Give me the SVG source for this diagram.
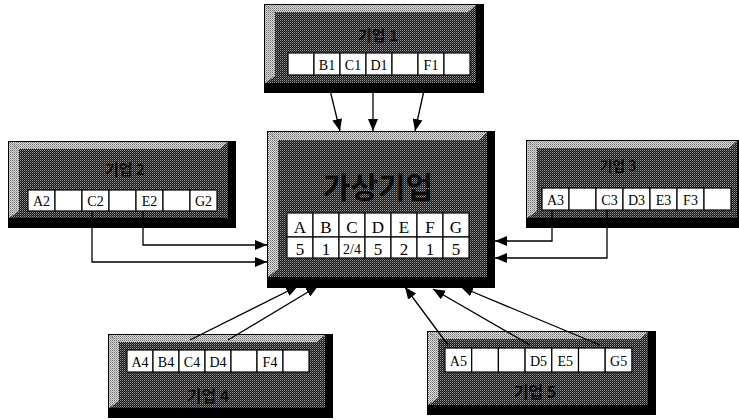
<svg xmlns="http://www.w3.org/2000/svg" width="739" height="420" viewBox="0 0 739 420">
<style>
.frame{fill:#000}
.face{fill:url(#dark)}
.bevel{fill:url(#light)}
.cell{fill:#fff;stroke:#000;stroke-width:1.2}
.lbl{font-family:"Liberation Serif",serif;font-size:14px;fill:#000;text-anchor:middle}
.big{font-family:"Liberation Serif",serif;font-size:17px;fill:#000;text-anchor:middle}
.title{font-family:"Noto Sans CJK KR",sans-serif;font-weight:bold;fill:#0a0a0a;text-anchor:middle}
.conn{fill:none;stroke:#000;stroke-width:1.3}
</style>
<defs>
<pattern id="dark" width="2" height="2" patternUnits="userSpaceOnUse"><rect width="2" height="2" fill="#151515"/><rect width="1" height="1" fill="#9a9a9a"/><rect x="1" y="1" width="1" height="1" fill="#555"/></pattern>
<pattern id="light" width="2" height="2" patternUnits="userSpaceOnUse"><rect width="2" height="2" fill="#dcdcdc"/><rect width="1" height="1" fill="#6e6e6e"/><rect x="1" y="1" width="1" height="1" fill="#a0a0a0"/></pattern>
<marker id="ah" markerWidth="12" markerHeight="10" refX="12" refY="5" orient="auto" markerUnits="userSpaceOnUse"><path d="M0,0 L12,5 L0,10 z" fill="#000"/></marker>
</defs>
<rect width="739" height="420" fill="#fff"/>

<g id="company1">
<rect class="frame" x="264" y="4" width="220" height="89"/>
<rect class="face" x="265" y="5" width="211" height="78"/>
<polygon class="bevel" points="265,5 476,5 468,12 275,12"/>
<polygon class="bevel" points="265,5 275,12 275,76 265,83"/>
<text class="title" x="378" y="41" font-size="15">기업 1</text>
<rect class="cell" x="288" y="53" width="26" height="22"/>
<rect class="cell" x="314" y="53" width="26" height="22"/>
<rect class="cell" x="340" y="53" width="26" height="22"/>
<rect class="cell" x="366" y="53" width="26" height="22"/>
<rect class="cell" x="392" y="53" width="26" height="22"/>
<rect class="cell" x="418" y="53" width="26" height="22"/>
<rect class="cell" x="444" y="53" width="26" height="22"/>
<text class="lbl" x="327" y="70">B1</text>
<text class="lbl" x="353" y="70">C1</text>
<text class="lbl" x="379" y="70">D1</text>
<text class="lbl" x="431" y="70">F1</text>
</g>

<g id="company2">
<rect class="frame" x="8" y="141" width="228" height="87"/>
<rect class="face" x="9" y="142" width="219" height="76"/>
<polygon class="bevel" points="9,142 228,142 220,149 19,149"/>
<polygon class="bevel" points="9,142 19,149 19,211 9,218"/>
<text class="title" x="125" y="175" font-size="15">기업 2</text>
<rect class="cell" x="28" y="190" width="27" height="21"/>
<rect class="cell" x="55" y="190" width="27" height="21"/>
<rect class="cell" x="82" y="190" width="27" height="21"/>
<rect class="cell" x="109" y="190" width="27" height="21"/>
<rect class="cell" x="136" y="190" width="27" height="21"/>
<rect class="cell" x="163" y="190" width="27" height="21"/>
<rect class="cell" x="190" y="190" width="27" height="21"/>
<text class="lbl" x="41.5" y="206">A2</text>
<text class="lbl" x="95.5" y="206">C2</text>
<text class="lbl" x="149.5" y="206">E2</text>
<text class="lbl" x="203.5" y="206">G2</text>
</g>

<g id="virtual">
<rect class="frame" x="267" y="131" width="228" height="157"/>
<rect class="face" x="268" y="132" width="219" height="145"/>
<polygon class="bevel" points="268,132 487,132 479,140 278,140"/>
<polygon class="bevel" points="268,132 278,140 278,269 268,277"/>
<text class="title" x="378" y="198" font-size="30">가상기업</text>
<rect class="cell" x="287" y="213" width="26" height="24"/>
<rect class="cell" x="313" y="213" width="26" height="24"/>
<rect class="cell" x="339" y="213" width="26" height="24"/>
<rect class="cell" x="365" y="213" width="26" height="24"/>
<rect class="cell" x="391" y="213" width="26" height="24"/>
<rect class="cell" x="417" y="213" width="26" height="24"/>
<rect class="cell" x="443" y="213" width="26" height="24"/>
<rect class="cell" x="287" y="237" width="26" height="21"/>
<rect class="cell" x="313" y="237" width="26" height="21"/>
<rect class="cell" x="339" y="237" width="26" height="21"/>
<rect class="cell" x="365" y="237" width="26" height="21"/>
<rect class="cell" x="391" y="237" width="26" height="21"/>
<rect class="cell" x="417" y="237" width="26" height="21"/>
<rect class="cell" x="443" y="237" width="26" height="21"/>
<text class="big" x="300" y="233">A</text>
<text class="big" x="326" y="233">B</text>
<text class="big" x="352" y="233">C</text>
<text class="big" x="378" y="233">D</text>
<text class="big" x="404" y="233">E</text>
<text class="big" x="430" y="233">F</text>
<text class="big" x="456" y="233">G</text>
<text class="big" x="300" y="255">5</text>
<text class="big" x="326" y="255">1</text>
<text class="lbl" x="352" y="254" font-size="12">2/4</text>
<text class="big" x="378" y="255">5</text>
<text class="big" x="404" y="255">2</text>
<text class="big" x="430" y="255">1</text>
<text class="big" x="456" y="255">5</text>
</g>

<g id="company3">
<rect class="frame" x="526" y="140" width="215" height="88"/>
<rect class="face" x="527" y="141" width="210" height="77"/>
<polygon class="bevel" points="527,141 737,141 729,148 537,148"/>
<polygon class="bevel" points="527,141 537,148 537,211 527,218"/>
<text class="title" x="618" y="171" font-size="14">기업 3</text>
<rect class="cell" x="542" y="188" width="27" height="22"/>
<rect class="cell" x="569" y="188" width="27" height="22"/>
<rect class="cell" x="596" y="188" width="27" height="22"/>
<rect class="cell" x="623" y="188" width="27" height="22"/>
<rect class="cell" x="650" y="188" width="27" height="22"/>
<rect class="cell" x="677" y="188" width="27" height="22"/>
<rect class="cell" x="704" y="188" width="27" height="22"/>
<text class="lbl" x="555.5" y="205">A3</text>
<text class="lbl" x="609.5" y="205">C3</text>
<text class="lbl" x="636.5" y="205">D3</text>
<text class="lbl" x="663.5" y="205">E3</text>
<text class="lbl" x="690.5" y="205">F3</text>
</g>

<g id="company4">
<rect class="frame" x="108" y="334" width="225" height="84"/>
<rect class="face" x="109" y="335" width="216" height="73"/>
<polygon class="bevel" points="109,335 325,335 317,342 119,342"/>
<polygon class="bevel" points="109,335 119,342 119,401 109,408"/>
<text class="title" x="208" y="402" font-size="16">기업 4</text>
<rect class="cell" x="127" y="350" width="26" height="22"/>
<rect class="cell" x="153" y="350" width="26" height="22"/>
<rect class="cell" x="179" y="350" width="26" height="22"/>
<rect class="cell" x="205" y="350" width="26" height="22"/>
<rect class="cell" x="231" y="350" width="26" height="22"/>
<rect class="cell" x="257" y="350" width="26" height="22"/>
<rect class="cell" x="283" y="350" width="26" height="22"/>
<text class="lbl" x="140" y="367">A4</text>
<text class="lbl" x="166" y="367">B4</text>
<text class="lbl" x="192" y="367">C4</text>
<text class="lbl" x="218" y="367">D4</text>
<text class="lbl" x="270" y="367">F4</text>
</g>

<g id="company5">
<rect class="frame" x="427" y="331" width="229" height="84"/>
<rect class="face" x="428" y="332" width="220" height="73"/>
<polygon class="bevel" points="428,332 648,332 640,339 438,339"/>
<polygon class="bevel" points="428,332 438,339 438,398 428,405"/>
<text class="title" x="535" y="398" font-size="16">기업 5</text>
<rect class="cell" x="445" y="348" width="26.7" height="24"/>
<rect class="cell" x="471.7" y="348" width="26.7" height="24"/>
<rect class="cell" x="498.4" y="348" width="26.7" height="24"/>
<rect class="cell" x="525.1" y="348" width="26.7" height="24"/>
<rect class="cell" x="551.8" y="348" width="26.7" height="24"/>
<rect class="cell" x="578.5" y="348" width="26.7" height="24"/>
<rect class="cell" x="605.2" y="348" width="26.7" height="24"/>
<text class="lbl" x="458.4" y="366">A5</text>
<text class="lbl" x="538.5" y="366">D5</text>
<text class="lbl" x="565.2" y="366">E5</text>
<text class="lbl" x="618.6" y="366">G5</text>
</g>

<g id="connectors">
<line class="conn" x1="329" y1="86" x2="340" y2="131" marker-end="url(#ah)"/>
<line class="conn" x1="373" y1="86" x2="373" y2="131" marker-end="url(#ah)"/>
<line class="conn" x1="425" y1="86" x2="415" y2="131" marker-end="url(#ah)"/>
<path class="conn" d="M143 211 V245 H267" marker-end="url(#ah)"/>
<path class="conn" d="M92 211 V262 H267" marker-end="url(#ah)"/>
<path class="conn" d="M552 210 V241 H495" marker-end="url(#ah)"/>
<path class="conn" d="M607 210 V258 H495" marker-end="url(#ah)"/>
<line class="conn" x1="190" y1="340" x2="298" y2="286" marker-end="url(#ah)"/>
<line class="conn" x1="228" y1="340" x2="318" y2="286" marker-end="url(#ah)"/>
<line class="conn" x1="448" y1="345" x2="405" y2="287" marker-end="url(#ah)"/>
<line class="conn" x1="530" y1="345" x2="433" y2="289" marker-end="url(#ah)"/>
<line class="conn" x1="600" y1="345" x2="461" y2="287" marker-end="url(#ah)"/>
</g>
</svg>
